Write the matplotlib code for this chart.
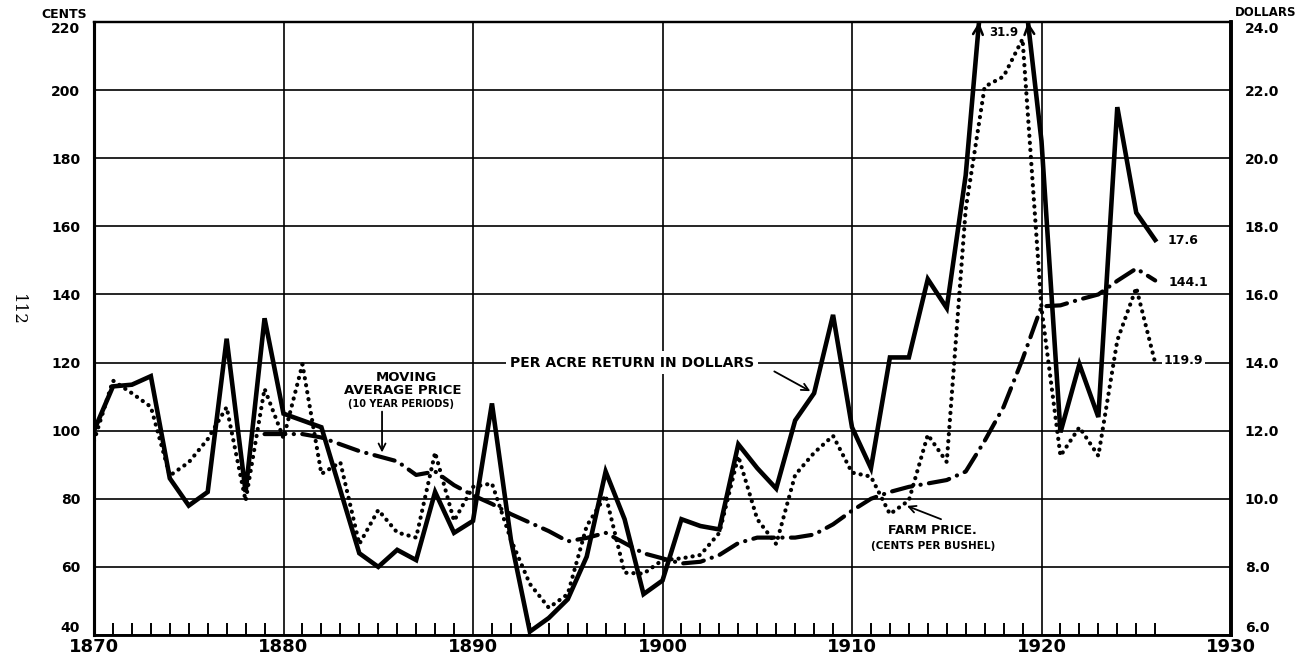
import numpy as np
import matplotlib
matplotlib.use("Agg")
import matplotlib.pyplot as plt

# ---------------- data ----------------
years = list(range(1870, 1927))

# per acre return, dollars (right axis)
return_dollars = [12.0, 13.3, 13.35, 13.6, 10.6, 9.8, 10.2, 14.7, 10.2, 15.3,
                  12.5, 12.3, 12.1, 10.25, 8.4, 8.0, 8.5, 8.2, 10.2, 9.0,
                  9.35, 12.8, 8.8, 6.1, 6.5, 7.05, 8.3, 10.8, 9.4, 7.2,
                  7.6, 9.4, 9.2, 9.1, 11.6, 10.9, 10.3, 12.3, 13.1, 15.4,
                  12.1, 10.9, 14.15, 14.15, 16.45, 15.6, 19.5, 25.9, 31.9, 25.4,
                  20.5, 11.95, 13.95, 12.4, 21.5, 18.4, 17.6]

# farm price, cents per bushel (left axis)
farm_price = [97, 114.7, 111, 107, 86.8, 90.7, 97.5, 106.9, 79.4, 112.3,
              97.8, 119.5, 87.3, 90.7, 66.7, 76.7, 70.1, 68.6, 93.6, 73.5,
              83.5, 84.5, 68, 55, 48, 52, 72, 81, 58.3, 58,
              62, 62.5, 63.5, 70, 92.5, 74, 66.7, 87, 93.5, 98.5,
              87.7, 86.5, 75.5, 79.5, 98.8, 90.8, 165, 201, 204, 215,
              136, 92.6, 101, 92.6, 126.5, 142, 119.9]

# moving average price (10 year periods), cents
ma_years = list(range(1879, 1927))
moving_avg = [99, 99, 99, 98, 96, 94, 92.5, 91, 87, 88,
              84, 81, 78.5, 75.5, 73, 70.5, 67.5, 68.5, 70, 67,
              64, 62.5, 61, 61.5, 63.5, 67, 68.6, 68.6, 68.6, 69.5,
              72.5, 76.5, 80, 82, 83.5, 84.5, 85.5, 88, 97, 107,
              121, 136.5, 136.8, 138.5, 140, 144, 147.6, 144.1]

cents_ticks = [40, 60, 80, 100, 120, 140, 160, 180, 200, 220]
dollar_ticks = [6.0, 8.0, 10.0, 12.0, 14.0, 16.0, 18.0, 20.0, 22.0, 24.0]
decade_ticks = [1870, 1880, 1890, 1900, 1910, 1920, 1930]

# ---------------- figure ----------------
plt.rcParams['font.family'] = ['DejaVu Sans']
plt.rcParams['font.weight'] = 'bold'

fig = plt.figure(figsize=(12.95, 6.56), dpi=100)
L, R, B, T = 94 / 1295, 1231 / 1295, 21 / 656, 634 / 656
ax = fig.add_axes([L, B, R - L, T - B])
ax2 = ax.twinx()

ax.set_xlim(1870, 1930)
ax.set_ylim(40, 220)
ax2.set_ylim(6, 24)

# grid
ax.set_yticks(cents_ticks)
ax.set_xticks(decade_ticks)
ax.grid(True, which='major', color='black', linewidth=1.2, zorder=0)
ax.set_axisbelow(True)
ax2.set_yticks(dollar_ticks)
ax2.set_yticklabels(["%.1f" % v for v in dollar_ticks])
ax.set_yticklabels([str(v) for v in cents_ticks])
ax.set_xticklabels([str(v) for v in decade_ticks])

minor_years = [y for y in years if y % 10 != 0]
ax.set_xticks(minor_years, minor=True)
ax.tick_params(axis='x', which='minor', direction='in', length=9, width=1.4,
               color='black', bottom=True)
ax.tick_params(axis='x', which='major', length=0, pad=2, labelsize=13)
ax.tick_params(axis='y', which='major', length=0, pad=10, labelsize=10)
ax2.tick_params(axis='y', which='major', length=0, pad=10, labelsize=10)

for lab in ax.get_yticklabels():
    lab.set_fontweight('bold')
for lab in ax2.get_yticklabels():
    lab.set_fontweight('bold')
for lab in ax.get_xticklabels():
    lab.set_fontweight('bold')
ylabs = ax.get_yticklabels()
ylabs[0].set_va('bottom'); ylabs[-1].set_va('top')
ylabs2 = ax2.get_yticklabels()
ylabs2[0].set_va('bottom'); ylabs2[-1].set_va('top')

for a in (ax, ax2):
    for side, lw in (('left', 2.2), ('right', 2.6), ('top', 1.6), ('bottom', 1.8)):
        a.spines[side].set_linewidth(lw)
        a.spines[side].set_color('black')

# series
ax.plot(years, farm_price, color='black', linewidth=3.0,
        linestyle=(0, (0.05, 1.65)), dash_capstyle='round', zorder=3)
ax.plot(ma_years, moving_avg, color='black', linewidth=3.0,
        linestyle=(0, (5.0, 2.0, 0.05, 2.0)), dash_capstyle='round', zorder=3)
ax2.plot(years, return_dollars, color='black', linewidth=3.3,
         solid_joinstyle='miter', zorder=4)

# off-chart arrows for the per acre return
top = 24.0
for i in range(len(years) - 1):
    v0, v1 = return_dollars[i], return_dollars[i + 1]
    if (v0 - top) * (v1 - top) < 0:
        t = (top - v0) / (v1 - v0)
        xc = years[i] + t
        slope = (v1 - v0)
        dx = 0.12
        xs = xc - dx if v1 > v0 else xc + dx
        ys = top - abs(slope) * dx
        ax2.annotate('', xy=(xc, top), xytext=(xs, ys),
                     arrowprops=dict(arrowstyle='->,head_length=0.7,head_width=0.35',
                                     color='black', lw=1.8, shrinkA=0, shrinkB=0),
                     annotation_clip=False, zorder=6)

# value labels
ax2.text(1917.25, 23.7, "31.9", fontsize=8.5, fontweight='bold', va='center', ha='left')
ax.text(1926.65, 155.9, "17.6", fontsize=9, fontweight='bold', va='center', ha='left')
ax.text(1926.7, 143.4, "144.1", fontsize=9, fontweight='bold', va='center', ha='left')
ax2.text(1926.45, 14.06, "119.9", fontsize=9, fontweight='bold', va='center', ha='left',
         bbox=dict(facecolor='white', edgecolor='none', pad=1.5), zorder=7)

# annotations
ax2.text(1898.4, 14.0, "PER ACRE RETURN IN DOLLARS", fontsize=10, fontweight='bold',
         ha='center', va='center',
         bbox=dict(facecolor='white', edgecolor='none', pad=3), zorder=7)
ax.annotate('', xy=(1907.8, 111.6), xytext=(1905.9, 117.4),
            arrowprops=dict(arrowstyle='->,head_length=0.5,head_width=0.25',
                            color='black', lw=1.3, shrinkA=0, shrinkB=0), zorder=7)

ax.text(1886.5, 115.7, "MOVING", fontsize=9.5, fontweight='bold', ha='center', va='center')
ax.text(1886.3, 111.8, "AVERAGE PRICE", fontsize=9.5, fontweight='bold', ha='center', va='center')
ax.text(1886.2, 107.7, "(10 YEAR PERIODS)", fontsize=7, fontweight='bold', ha='center', va='center')
ax.annotate('', xy=(1885.2, 93.6), xytext=(1885.2, 105.6),
            arrowprops=dict(arrowstyle='->,head_length=0.5,head_width=0.25',
                            color='black', lw=1.3, shrinkA=0, shrinkB=0), zorder=7)

ax.text(1914.25, 70.6, "FARM PRICE.", fontsize=9, fontweight='bold', ha='center', va='center')
ax.text(1914.3, 66.2, "(CENTS PER BUSHEL)", fontsize=7.5, fontweight='bold', ha='center', va='center')
ax.annotate('', xy=(1912.9, 77.9), xytext=(1914.7, 74.0),
            arrowprops=dict(arrowstyle='->,head_length=0.5,head_width=0.25',
                            color='black', lw=1.3, shrinkA=0, shrinkB=0), zorder=7)

# axis unit titles
fig.text(64 / 1295, 1 - 15 / 656, "CENTS", fontsize=9, fontweight='bold', ha='center', va='center')
fig.text(1266 / 1295, 1 - 13 / 656, "DOLLARS", fontsize=8.5, fontweight='bold', ha='center', va='center')

# page number
fig.text(17 / 1295, 1 - 310 / 656, "112", fontsize=12, family='DejaVu Serif',
         fontweight='normal', rotation=-90, ha='center', va='center')

fig.savefig("out.png", dpi=100, facecolor='white')
